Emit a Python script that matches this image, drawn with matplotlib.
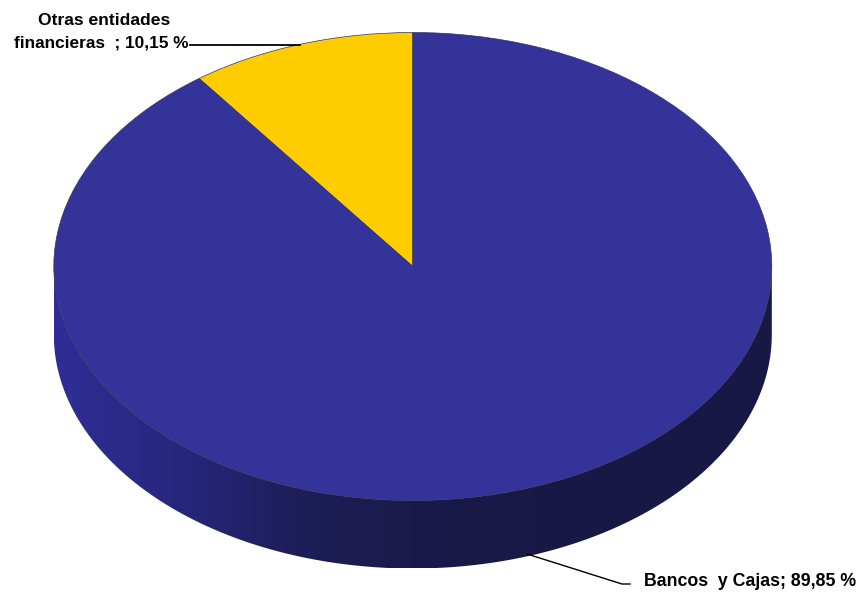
import numpy as np
import matplotlib
matplotlib.use('Agg')
import matplotlib.pyplot as plt
from matplotlib.colors import LinearSegmentedColormap
from matplotlib.patches import PathPatch
from matplotlib.path import Path

# Share of each group, in percent
label_otras = ['Otras entidades', 'financieras  ; 10,15 %']
label_bancos = 'Bancos  y Cajas; 89,85 %'
shares = [10.15, 89.85]
colors = ['#FFCC00', '#333399']

# Shading of the pie's side wall, left to right
wall_colors = ['#2E2E96', '#27277F', '#1E1E5A', '#1A1A4A', '#191947', '#181845', '#181845']

plt.rcParams['font.family'] = ['Liberation Sans', 'DejaVu Sans']

# Pixel geometry of the tilted pie
W, H = 864, 597
cx, cy = 412.8, 266.5
rx, ry = 359, 234
depth = 68 / ry


def px(x, y):
    # Pixel position to pie units (x and y scaled separately, so the circle becomes an ellipse)
    return (x - cx) / rx, (cy - y) / ry


fig = plt.figure(figsize=(W / 100, H / 100), dpi=100)
ax = fig.add_axes([0, 0, 1, 1])

wedges, _ = ax.pie(shares, colors=colors, startangle=90, radius=1,
                   wedgeprops={'edgecolor': '#34345E', 'linewidth': 0.5, 'zorder': 3})

# Side wall: lower half of the ellipse pushed down by the depth, filled with a gradient
t = np.linspace(np.pi, 2 * np.pi, 200)
xs = np.cos(t)
ys = np.sin(t)
verts = np.vstack([np.column_stack([xs, ys]),
                   np.column_stack([xs[::-1], ys[::-1] - depth])])
verts = np.vstack([verts, verts[0]])
codes = [Path.MOVETO] + [Path.LINETO] * (len(verts) - 2) + [Path.CLOSEPOLY]
wall = PathPatch(Path(verts, codes), facecolor='none', edgecolor='none', zorder=1)
ax.add_patch(wall)

cmap = LinearSegmentedColormap.from_list('wall', wall_colors)
grad = np.linspace(0, 1, 256).reshape(1, -1)
im = ax.imshow(grad, cmap=cmap, aspect='auto', zorder=1,
               extent=[-1, 1, -1 - depth, 0.2], interpolation='bilinear')
im.set_clip_path(wall)
ax.set_aspect('auto')
ax.set_xlim(px(0, 0)[0], px(W, 0)[0])
ax.set_ylim(px(0, H)[1], px(0, 0)[1])

# Leader lines
ax.plot(*zip(px(190, 45), px(300, 45)), color='black', lw=1.3, zorder=4)
ax.plot(*zip(px(527, 554), px(622, 584), px(630, 584)), color='black', lw=1.0, zorder=4)

# Value labels
ax.text(*px(104, 21), label_otras[0], ha='center', va='center', fontsize=12.6,
        fontweight='bold', color='black', zorder=5)
ax.text(*px(188, 43), label_otras[1], ha='right', va='center', fontsize=12.4,
        fontweight='bold', color='black', zorder=5)
ax.text(*px(644, 582), label_bancos, ha='left', va='center', fontsize=12.8,
        fontweight='bold', color='black', zorder=5)

ax.axis('off')
fig.savefig('out.png', dpi=100, facecolor='white')
